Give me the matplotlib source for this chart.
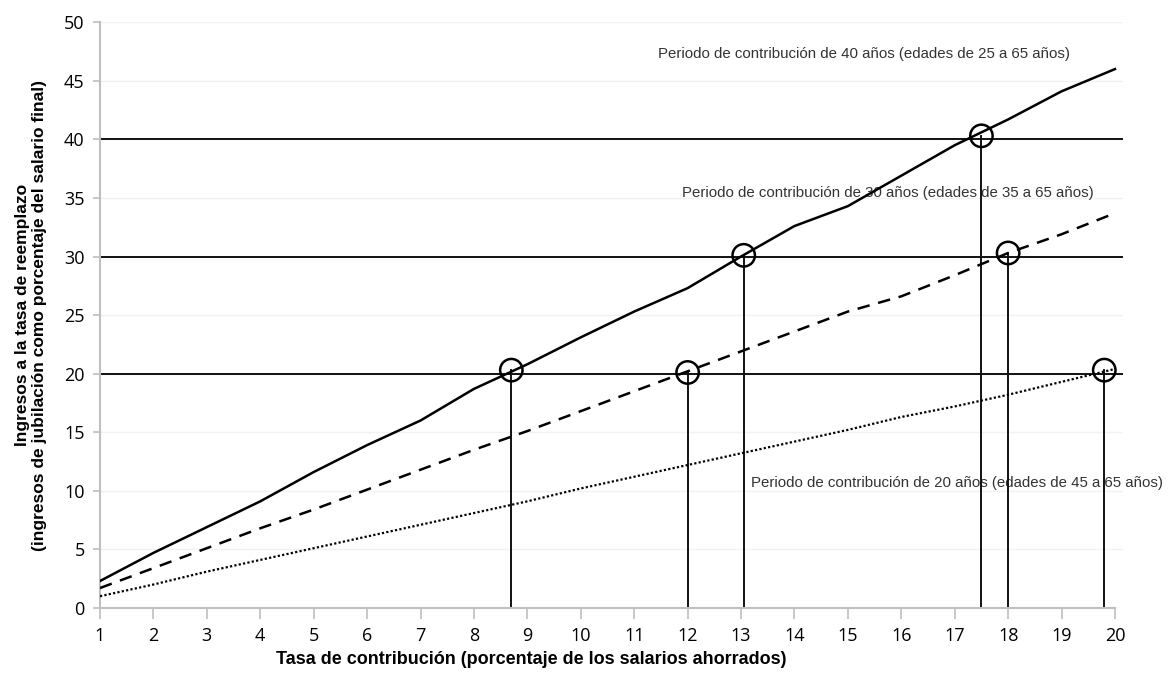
import matplotlib
matplotlib.use("Agg")
import matplotlib.pyplot as plt

rate = list(range(1, 21))
years40 = [2.3, 4.7, 6.9, 9.1, 11.6, 13.9, 16.0, 18.7, 20.8, 23.1,
           25.3, 27.3, 30.0, 32.6, 34.3, 36.9, 39.5, 41.7, 44.1, 46.0]
years30 = [1.7, 3.4, 5.1, 6.8, 8.4, 10.1, 11.8, 13.5, 15.1, 16.8,
           18.5, 20.2, 21.9, 23.6, 25.3, 26.6, 28.4, 30.3, 31.9, 33.7]
years20 = [1.0, 2.0, 3.1, 4.1, 5.1, 6.1, 7.1, 8.1, 9.1, 10.2,
           11.2, 12.2, 13.2, 14.2, 15.2, 16.3, 17.2, 18.2, 19.3, 20.4]

targets = [20, 30, 40]
circle_x = [8.7, 12.0, 13.05, 17.5, 18.0, 19.8]
circle_y = [20.3, 20.1, 30.1, 40.3, 30.3, 20.3]

labels = [
    "Periodo de contribución de 40 años (edades de 25 a 65 años)",
    "Periodo de contribución de 30 años (edades de 35 a 65 años)",
    "Periodo de contribución de 20 años (edades de 45 a 65 años)",
]
# right edge of each label, in data units
label_pos = [(19.15, 47.3), (19.6, 35.4), (20.9, 10.7)]

narrow = ["Liberation Sans Narrow", "Liberation Sans", "DejaVu Sans"]
tickfont = ["Open Sans", "DejaVu Sans"]

fig = plt.figure(figsize=(11.71, 6.94), dpi=100)
ax = fig.add_axes([0.0854, 0.124, 0.8736, 0.844])

ax.set_xlim(1, 20.15)
ax.set_ylim(0, 50)
ax.set_yticks(range(0, 51, 5))
ax.set_xticks(rate)
ax.grid(axis="y", color="#f2f2f2", lw=1)
ax.set_axisbelow(True)

for t in targets:
    ax.plot([1, 20.15], [t, t], color="#111111", lw=1.4, zorder=2)

ax.plot(rate, years40, color="black", lw=1.8, zorder=3)
ax.plot(rate, years30, color="black", lw=1.8, ls=(0, (5, 3.5)), zorder=3)
ax.plot(rate, years20, color="black", lw=1.6, ls=(0, (1, 1)), zorder=3)

for cx, cy in zip(circle_x, circle_y):
    ax.plot([cx, cx], [0, cy], color="#111111", lw=1.4, zorder=2)
ax.scatter(circle_x, circle_y, s=260, facecolors="none", edgecolors="black",
           linewidths=1.8, zorder=4)

for txt, (tx, ty) in zip(labels, label_pos):
    ax.text(tx, ty, txt, fontsize=10.8, family=narrow, color="#333333",
            va="center", ha="right", zorder=1, clip_on=False)

for s in ["top", "right"]:
    ax.spines[s].set_visible(False)
for s in ["left", "bottom"]:
    ax.spines[s].set_color("#bfbfbf")
    ax.spines[s].set_linewidth(1.5)
ax.spines["bottom"].set_bounds(1, 20)
ax.tick_params(axis="x", length=8, width=1.2, color="#bfbfbf", pad=6)
ax.tick_params(axis="y", length=5, width=1.2, color="#bfbfbf", pad=6)
for lab in ax.get_xticklabels() + ax.get_yticklabels():
    lab.set_family(tickfont)
    lab.set_fontsize(13)

ax.set_xlabel("Tasa de contribución (porcentaje de los salarios ahorrados)",
              fontsize=13, fontweight="bold", family=narrow)
ax.xaxis.set_label_coords(0.422, -0.073)
ax.set_ylabel("Ingresos a la tasa de reemplazo\n(ingresos de jubilación como porcentaje del salario final)",
              fontsize=12.5, fontweight="bold", family=narrow, labelpad=12)

fig.savefig("out.png", dpi=100)
